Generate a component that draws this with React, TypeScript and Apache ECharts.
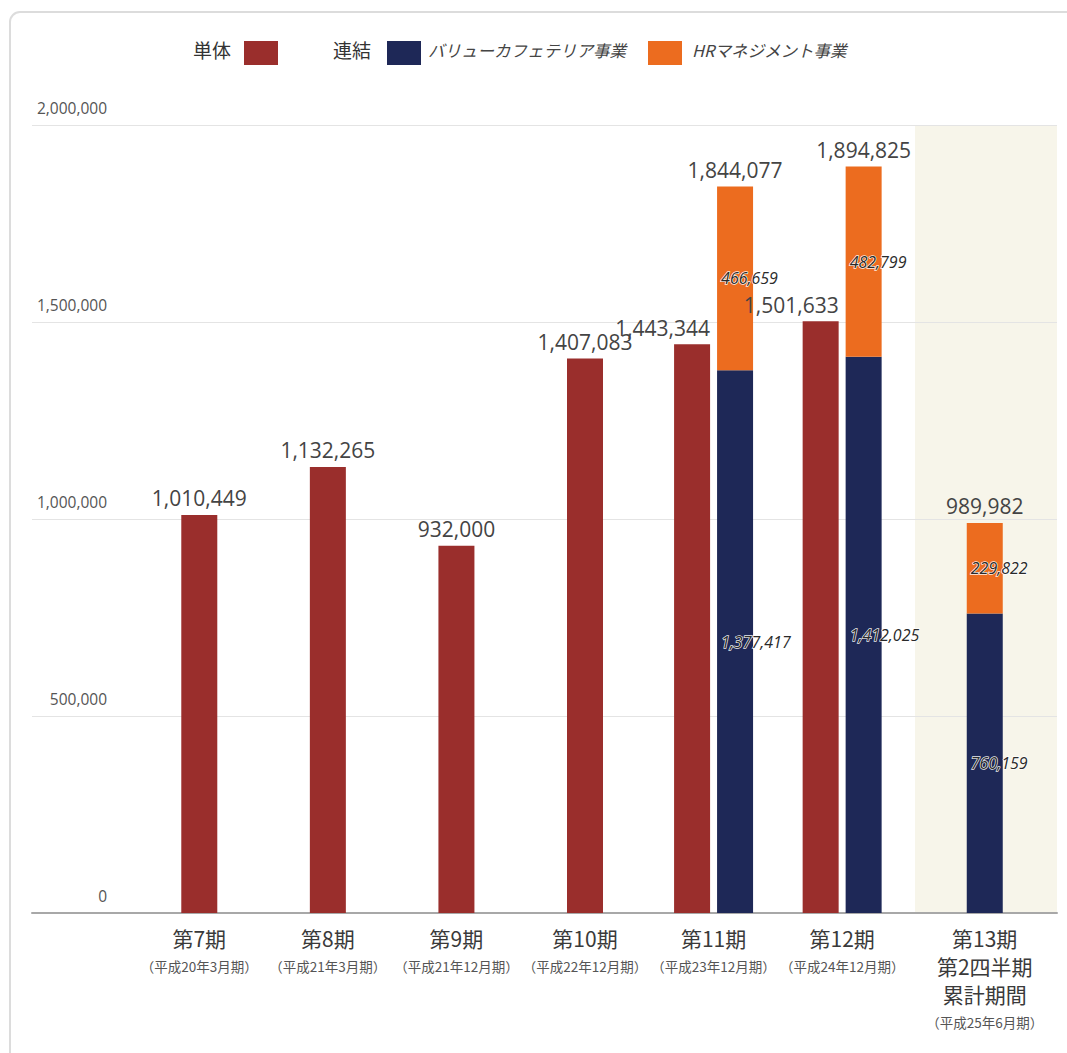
import React, { useEffect, useRef } from "react";
import * as echarts from "echarts";

const categories = ["第7期", "第8期", "第9期", "第10期", "第11期", "第12期", "第13期"];
const extraLines = ["", "", "", "", "", "", "第2四半期\n累計期間"];
const periodNotes = [
  "（平成20年3月期）",
  "（平成21年3月期）",
  "（平成21年12月期）",
  "（平成22年12月期）",
  "（平成23年12月期）",
  "（平成24年12月期）",
  "（平成25年6月期）",
];

const standalone: (number | null)[] = [1010449, 1132265, 932000, 1407083, 1443344, 1501633, null];
const valueCafeteria: (number | null)[] = [null, null, null, null, 1377417, 1412025, 760159];
const hrManagement: (number | null)[] = [null, null, null, null, 466659, 482799, 229822];
const consolidatedTotals: (number | null)[] = [null, null, null, null, 1844077, 1894825, 989982];

const yTicks = [0, 500000, 1000000, 1500000, 2000000];

const seriesNames = ["単体", "バリューカフェテリア事業", "HRマネジメント事業"];
const groupNames = ["単体", "連結"];

const RED = "#9a2e2c";
const NAVY = "#1e2857";
const ORANGE = "#ec6c1f";
const BAND = "#f7f5ea";

const fmt = (v: number) => v.toLocaleString("en-US");

export default function App() {
  const ref = useRef<HTMLDivElement>(null);

  useEffect(() => {
    if (!ref.current) return;
    const chart = echarts.init(ref.current, undefined, { renderer: "svg" });

    const hasConsolidated = (i: number) => valueCafeteria[i] != null;
    const hasStandalone = (i: number) => standalone[i] != null;

    const standaloneSolo = standalone.map((v, i) => (hasConsolidated(i) ? null : v));
    const standalonePaired = standalone.map((v, i) => (hasConsolidated(i) ? v : null));
    const cafPaired = valueCafeteria.map((v, i) => (hasStandalone(i) ? v : null));
    const hrPaired = hrManagement.map((v, i) => (hasStandalone(i) ? v : null));
    const totPaired = consolidatedTotals.map((v, i) => (v != null && hasStandalone(i) ? 0 : null));
    const cafSolo = valueCafeteria.map((v, i) => (hasStandalone(i) ? null : v));
    const hrSolo = hrManagement.map((v, i) => (hasStandalone(i) ? null : v));
    const totSolo = consolidatedTotals.map((v, i) => (v != null && !hasStandalone(i) ? 0 : null));
    const dummy = categories.map(() => null);

    const numFont = "'Open Sans', 'Noto Sans CJK JP', sans-serif";
    const jpFont = "'Noto Sans CJK JP', sans-serif";

    const topLabel = {
      show: true,
      position: "top" as const,
      distance: 6,
      fontSize: 21,
      color: "#444",
      fontFamily: numFont,
      formatter: (p: any) => fmt(p.value),
    };
    const insideLabel = {
      show: true,
      position: "insideLeft" as const,
      distance: 4,
      fontSize: 16,
      fontStyle: "italic" as const,
      color: "#2a2a2a",
      textBorderColor: "rgba(255,255,255,0.9)",
      textBorderWidth: 1.5,
      fontFamily: numFont,
      formatter: (p: any) => fmt(p.value),
    };
    const totalLabel = {
      show: true,
      position: "top" as const,
      distance: 6,
      fontSize: 21,
      color: "#444",
      fontFamily: numFont,
      formatter: (p: any) => fmt(consolidatedTotals[p.dataIndex] as number),
    };

    const xData = categories.map((c, i) =>
      i === categories.length - 1 ? { value: c, textStyle: { padding: [0, 0, 0, 28] } } : c
    );

    const legendY = 53;
    const legendGraphics: any[] = [
      { type: "text", left: 193, top: legendY - 13, style: { text: groupNames[0], fill: "#333", font: `19px ${jpFont}` } },
      { type: "rect", shape: { x: 244, y: 41, width: 34, height: 24 }, style: { fill: RED } },
      { type: "text", left: 333, top: legendY - 13, style: { text: groupNames[1], fill: "#333", font: `19px ${jpFont}` } },
      { type: "rect", shape: { x: 387, y: 41, width: 34, height: 24 }, style: { fill: NAVY } },
      { type: "text", left: 428, top: legendY - 11, style: { text: seriesNames[1], fill: "#444", font: `italic 16.5px ${jpFont}` } },
      { type: "rect", shape: { x: 648, y: 41, width: 34, height: 24 }, style: { fill: ORANGE } },
      { type: "text", left: 692, top: legendY - 11, style: { text: seriesNames[2], fill: "#444", font: `italic 16.5px ${jpFont}` } },
    ];

    chart.setOption({
      animation: false,
      backgroundColor: "#ffffff",
      graphic: [
        {
          type: "rect",
          z: -20,
          shape: { x: 10, y: 12, width: 1100, height: 1100, r: 10 },
          style: { fill: "#ffffff", stroke: "#dcdcdc", lineWidth: 2 },
        },
        {
          type: "rect",
          z: -10,
          shape: { x: 915, y: 125, width: 142, height: 788 },
          style: { fill: BAND },
        },
        ...legendGraphics,
      ],
      grid: [
        { left: 32, right: 10, top: 125, bottom: 140 },
        { left: 135, right: 32, top: 125, bottom: 140 },
      ],
      xAxis: [
        {
          gridIndex: 0,
          type: "category",
          data: [""],
          axisLine: { show: true, lineStyle: { color: "#a8a8a8", width: 2 } },
          axisTick: { show: false },
          axisLabel: { show: false },
        },
        {
          gridIndex: 1,
          type: "category",
          data: xData,
          axisLine: { show: false },
          axisTick: { show: false },
          axisLabel: {
            margin: 11,
            interval: 0,
            formatter: (_v: string, i: number) => {
              const main = [categories[i], ...(extraLines[i] ? extraLines[i].split("\n") : [])]
                .map((l) => `{a|${l}}`)
                .join("\n");
              return `${main}\n{b|${periodNotes[i]}}`;
            },
            rich: {
              a: { fontSize: 21, lineHeight: 28, color: "#3a3a3a", fontFamily: jpFont },
              b: { fontSize: 13.5, lineHeight: 27, color: "#555", fontFamily: jpFont },
            },
          },
        },
        { gridIndex: 1, type: "category", data: categories, show: false },
        { gridIndex: 1, type: "category", data: categories, show: false },
      ],
      yAxis: [
        {
          gridIndex: 0,
          type: "value",
          min: yTicks[0],
          max: yTicks[yTicks.length - 1],
          interval: yTicks[1] - yTicks[0],
          axisLine: { show: false },
          axisTick: { show: false },
          splitLine: { show: true, lineStyle: { color: "#e4e4e4", width: 1 } },
          axisLabel: {
            inside: true,
            margin: 75,
            align: "right",
            verticalAlign: "bottom",
            padding: [0, 0, 9, 0],
            fontSize: 15.5,
            color: "#555",
            fontFamily: numFont,
            formatter: (v: number) => fmt(v),
          },
        },
        {
          gridIndex: 1,
          type: "value",
          min: yTicks[0],
          max: yTicks[yTicks.length - 1],
          show: false,
          splitLine: { show: false },
        },
      ],
      series: [
        {
          name: seriesNames[0],
          type: "bar",
          xAxisIndex: 1,
          yAxisIndex: 1,
          barWidth: 36,
          data: standaloneSolo,
          itemStyle: { color: RED },
          label: topLabel,
        },
        {
          name: seriesNames[0],
          type: "bar",
          xAxisIndex: 2,
          yAxisIndex: 1,
          barWidth: 36,
          barGap: "19.4%",
          data: standalonePaired,
          itemStyle: { color: RED },
          label: { ...topLabel, align: "right", offset: [18, 0] },
        },
        {
          name: seriesNames[1],
          type: "bar",
          xAxisIndex: 2,
          yAxisIndex: 1,
          stack: "paired",
          barWidth: 36,
          barGap: "19.4%",
          data: cafPaired,
          itemStyle: { color: NAVY },
          label: insideLabel,
        },
        {
          name: seriesNames[2],
          type: "bar",
          xAxisIndex: 2,
          yAxisIndex: 1,
          stack: "paired",
          barWidth: 36,
          barGap: "19.4%",
          data: hrPaired,
          itemStyle: { color: ORANGE },
          label: insideLabel,
        },
        {
          name: "連結合計",
          type: "bar",
          xAxisIndex: 2,
          yAxisIndex: 1,
          stack: "paired",
          barWidth: 36,
          barGap: "19.4%",
          data: totPaired,
          itemStyle: { color: "transparent" },
          label: totalLabel,
        },
        {
          name: "spacer",
          type: "bar",
          xAxisIndex: 3,
          yAxisIndex: 1,
          barWidth: 36,
          barGap: "-22%",
          data: dummy,
          silent: true,
        },
        {
          name: seriesNames[1],
          type: "bar",
          xAxisIndex: 3,
          yAxisIndex: 1,
          stack: "solo",
          barWidth: 36,
          barGap: "-22%",
          data: cafSolo,
          itemStyle: { color: NAVY },
          label: insideLabel,
        },
        {
          name: seriesNames[2],
          type: "bar",
          xAxisIndex: 3,
          yAxisIndex: 1,
          stack: "solo",
          barWidth: 36,
          barGap: "-22%",
          data: hrSolo,
          itemStyle: { color: ORANGE },
          label: insideLabel,
        },
        {
          name: "連結合計",
          type: "bar",
          xAxisIndex: 3,
          yAxisIndex: 1,
          stack: "solo",
          barWidth: 36,
          barGap: "-22%",
          data: totSolo,
          itemStyle: { color: "transparent" },
          label: totalLabel,
        },
      ],
    });

    return () => chart.dispose();
  }, []);

  return (
    <div
      ref={ref}
      style={{ position: "absolute", left: 0, top: 0, width: 1067, height: 1053, background: "#fff" }}
    />
  );
}
